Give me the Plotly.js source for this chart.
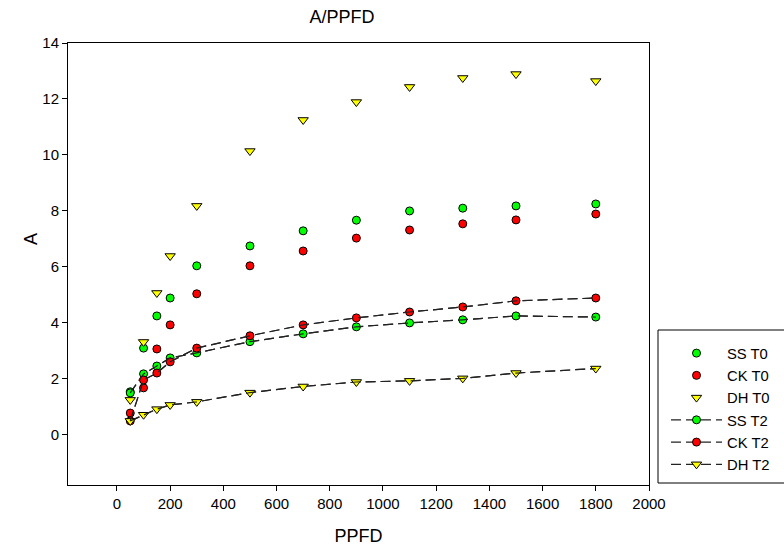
<!DOCTYPE html>
<html>
<head>
<meta charset="utf-8">
<script src="https://cdn.plot.ly/plotly-3.0.1.min.js"></script>
<style>html,body{margin:0;padding:0;background:#fff}#chart{width:784px;height:554px}</style>
</head>
<body>
<div id="chart"></div>
<script>
// PPFD values (x)
const ppfd = [50, 100, 150, 200, 300, 500, 700, 900, 1100, 1300, 1500, 1800];
// A values per series
const ssT0 = [1.54, 3.10, 4.25, 4.89, 6.04, 6.75, 7.29, 7.67, 8.00, 8.10, 8.18, 8.25];
const ckT0 = [0.78, 1.68, 3.07, 3.93, 5.04, 6.04, 6.57, 7.03, 7.32, 7.54, 7.68, 7.89];
const dhT0 = [1.25, 3.32, 5.07, 6.39, 8.18, 10.14, 11.25, 11.89, 12.43, 12.75, 12.89, 12.64];
const ssT2 = [1.50, 2.18, 2.46, 2.75, 2.93, 3.33, 3.61, 3.86, 4.00, 4.11, 4.25, 4.21];
const ckT2 = [0.50, 1.96, 2.21, 2.61, 3.10, 3.54, 3.93, 4.18, 4.39, 4.57, 4.79, 4.89];
const dhT2 = [0.50, 0.72, 0.92, 1.07, 1.18, 1.51, 1.73, 1.89, 1.93, 2.02, 2.21, 2.37];
const names = ['SS T0', 'CK T0', 'DH T0', 'SS T2', 'CK T2', 'DH T2'];
const xTicks = [0, 200, 400, 600, 800, 1000, 1200, 1400, 1600, 1800, 2000];
const yTicks = [0, 2, 4, 6, 8, 10, 12, 14];

const GREEN = '#00ff00', RED = '#ff0000', YELLOW = '#ffff00';
const DASH = '10px,5px';
const LINE = {color: '#222', width: 1.2, dash: DASH};
const mk = (color, symbol, size) => ({color: color, symbol: symbol, size: size, line: {color: '#000', width: 1}});

const traces = [
  {x: ppfd, y: ssT0, name: names[0], mode: 'markers', type: 'scatter', marker: mk(GREEN, 'circle', 8)},
  {x: ppfd, y: ckT0, name: names[1], mode: 'markers', type: 'scatter', marker: mk(RED, 'circle', 8)},
  {x: ppfd, y: dhT0, name: names[2], mode: 'markers', type: 'scatter', marker: mk(YELLOW, 'triangle-down', 9)},
  {x: ppfd, y: ssT2, name: names[3], mode: 'lines+markers', type: 'scatter', marker: mk(GREEN, 'circle', 8), line: LINE},
  {x: ppfd, y: ckT2, name: names[4], mode: 'lines+markers', type: 'scatter', marker: mk(RED, 'circle', 8), line: LINE},
  {x: ppfd, y: dhT2, name: names[5], mode: 'lines+markers', type: 'scatter', marker: mk(YELLOW, 'triangle-down', 9), line: LINE},
  // dashed lines drawn over the markers, as in the original
  {x: ppfd, y: ssT2, mode: 'lines', type: 'scatter', showlegend: false, hoverinfo: 'skip', line: LINE},
  {x: ppfd, y: ckT2, mode: 'lines', type: 'scatter', showlegend: false, hoverinfo: 'skip', line: LINE},
  {x: ppfd, y: dhT2, mode: 'lines', type: 'scatter', showlegend: false, hoverinfo: 'skip', line: LINE}
];

const FONT = 'Liberation Sans, Arial, sans-serif';
const layout = {
  width: 784, height: 554,
  paper_bgcolor: '#fff', plot_bgcolor: '#fff',
  font: {family: FONT, size: 15, color: '#000'},
  margin: {l: 68, r: 135, t: 43, b: 69, pad: 0, autoexpand: false},
  title: {text: 'A/PPFD', font: {family: FONT, size: 18, color: '#000'}, x: 342 / 784, xref: 'container', xanchor: 'center', y: 1 - 17 / 554, yref: 'container', yanchor: 'middle'},
  xaxis: {
    range: [-184, 2000], tickvals: xTicks, ticktext: xTicks.map(String),
    ticks: 'outside', ticklen: 5, tickwidth: 1, tickcolor: '#000',
    showline: true, linecolor: '#000', linewidth: 1, mirror: true,
    showgrid: false, zeroline: false, tickfont: {size: 15}, automargin: false,
    title: {text: 'PPFD', font: {size: 18}, standoff: 18}
  },
  yaxis: {
    range: [-1.79, 14], tickvals: yTicks, ticktext: yTicks.map(String),
    ticks: 'outside', ticklen: 5, tickwidth: 1, tickcolor: '#000',
    showline: true, linecolor: '#000', linewidth: 1, mirror: true,
    showgrid: false, zeroline: false, tickfont: {size: 15}, automargin: false
  },
  annotations: [
    {text: 'A', xref: 'paper', yref: 'y', x: 0, y: 7, xshift: -37, showarrow: false, textangle: -90, font: {size: 18}, xanchor: 'center', yanchor: 'middle'}
  ],
  shapes: [
    {type: 'rect', xref: 'paper', yref: 'paper', x0: (658 - 68) / 581, x1: (800 - 68) / 581, y0: (485 - 483) / 442, y1: (485 - 330) / 442, line: {color: '#000', width: 1}, fillcolor: 'rgba(0,0,0,0)', layer: 'above'}
  ],
  legend: {
    xref: 'container', yref: 'container',
    x: 666 / 784, xanchor: 'left', y: 1 - 337 / 554, yanchor: 'top',
    borderwidth: 0, bgcolor: 'rgba(0,0,0,0)',
    font: {size: 14.8}, tracegroupgap: 0, itemsizing: 'trace', itemwidth: 51
  },
  showlegend: true
};

Plotly.newPlot('chart', traces, layout, {displayModeBar: false, staticPlot: true});
</script>
</body>
</html>
